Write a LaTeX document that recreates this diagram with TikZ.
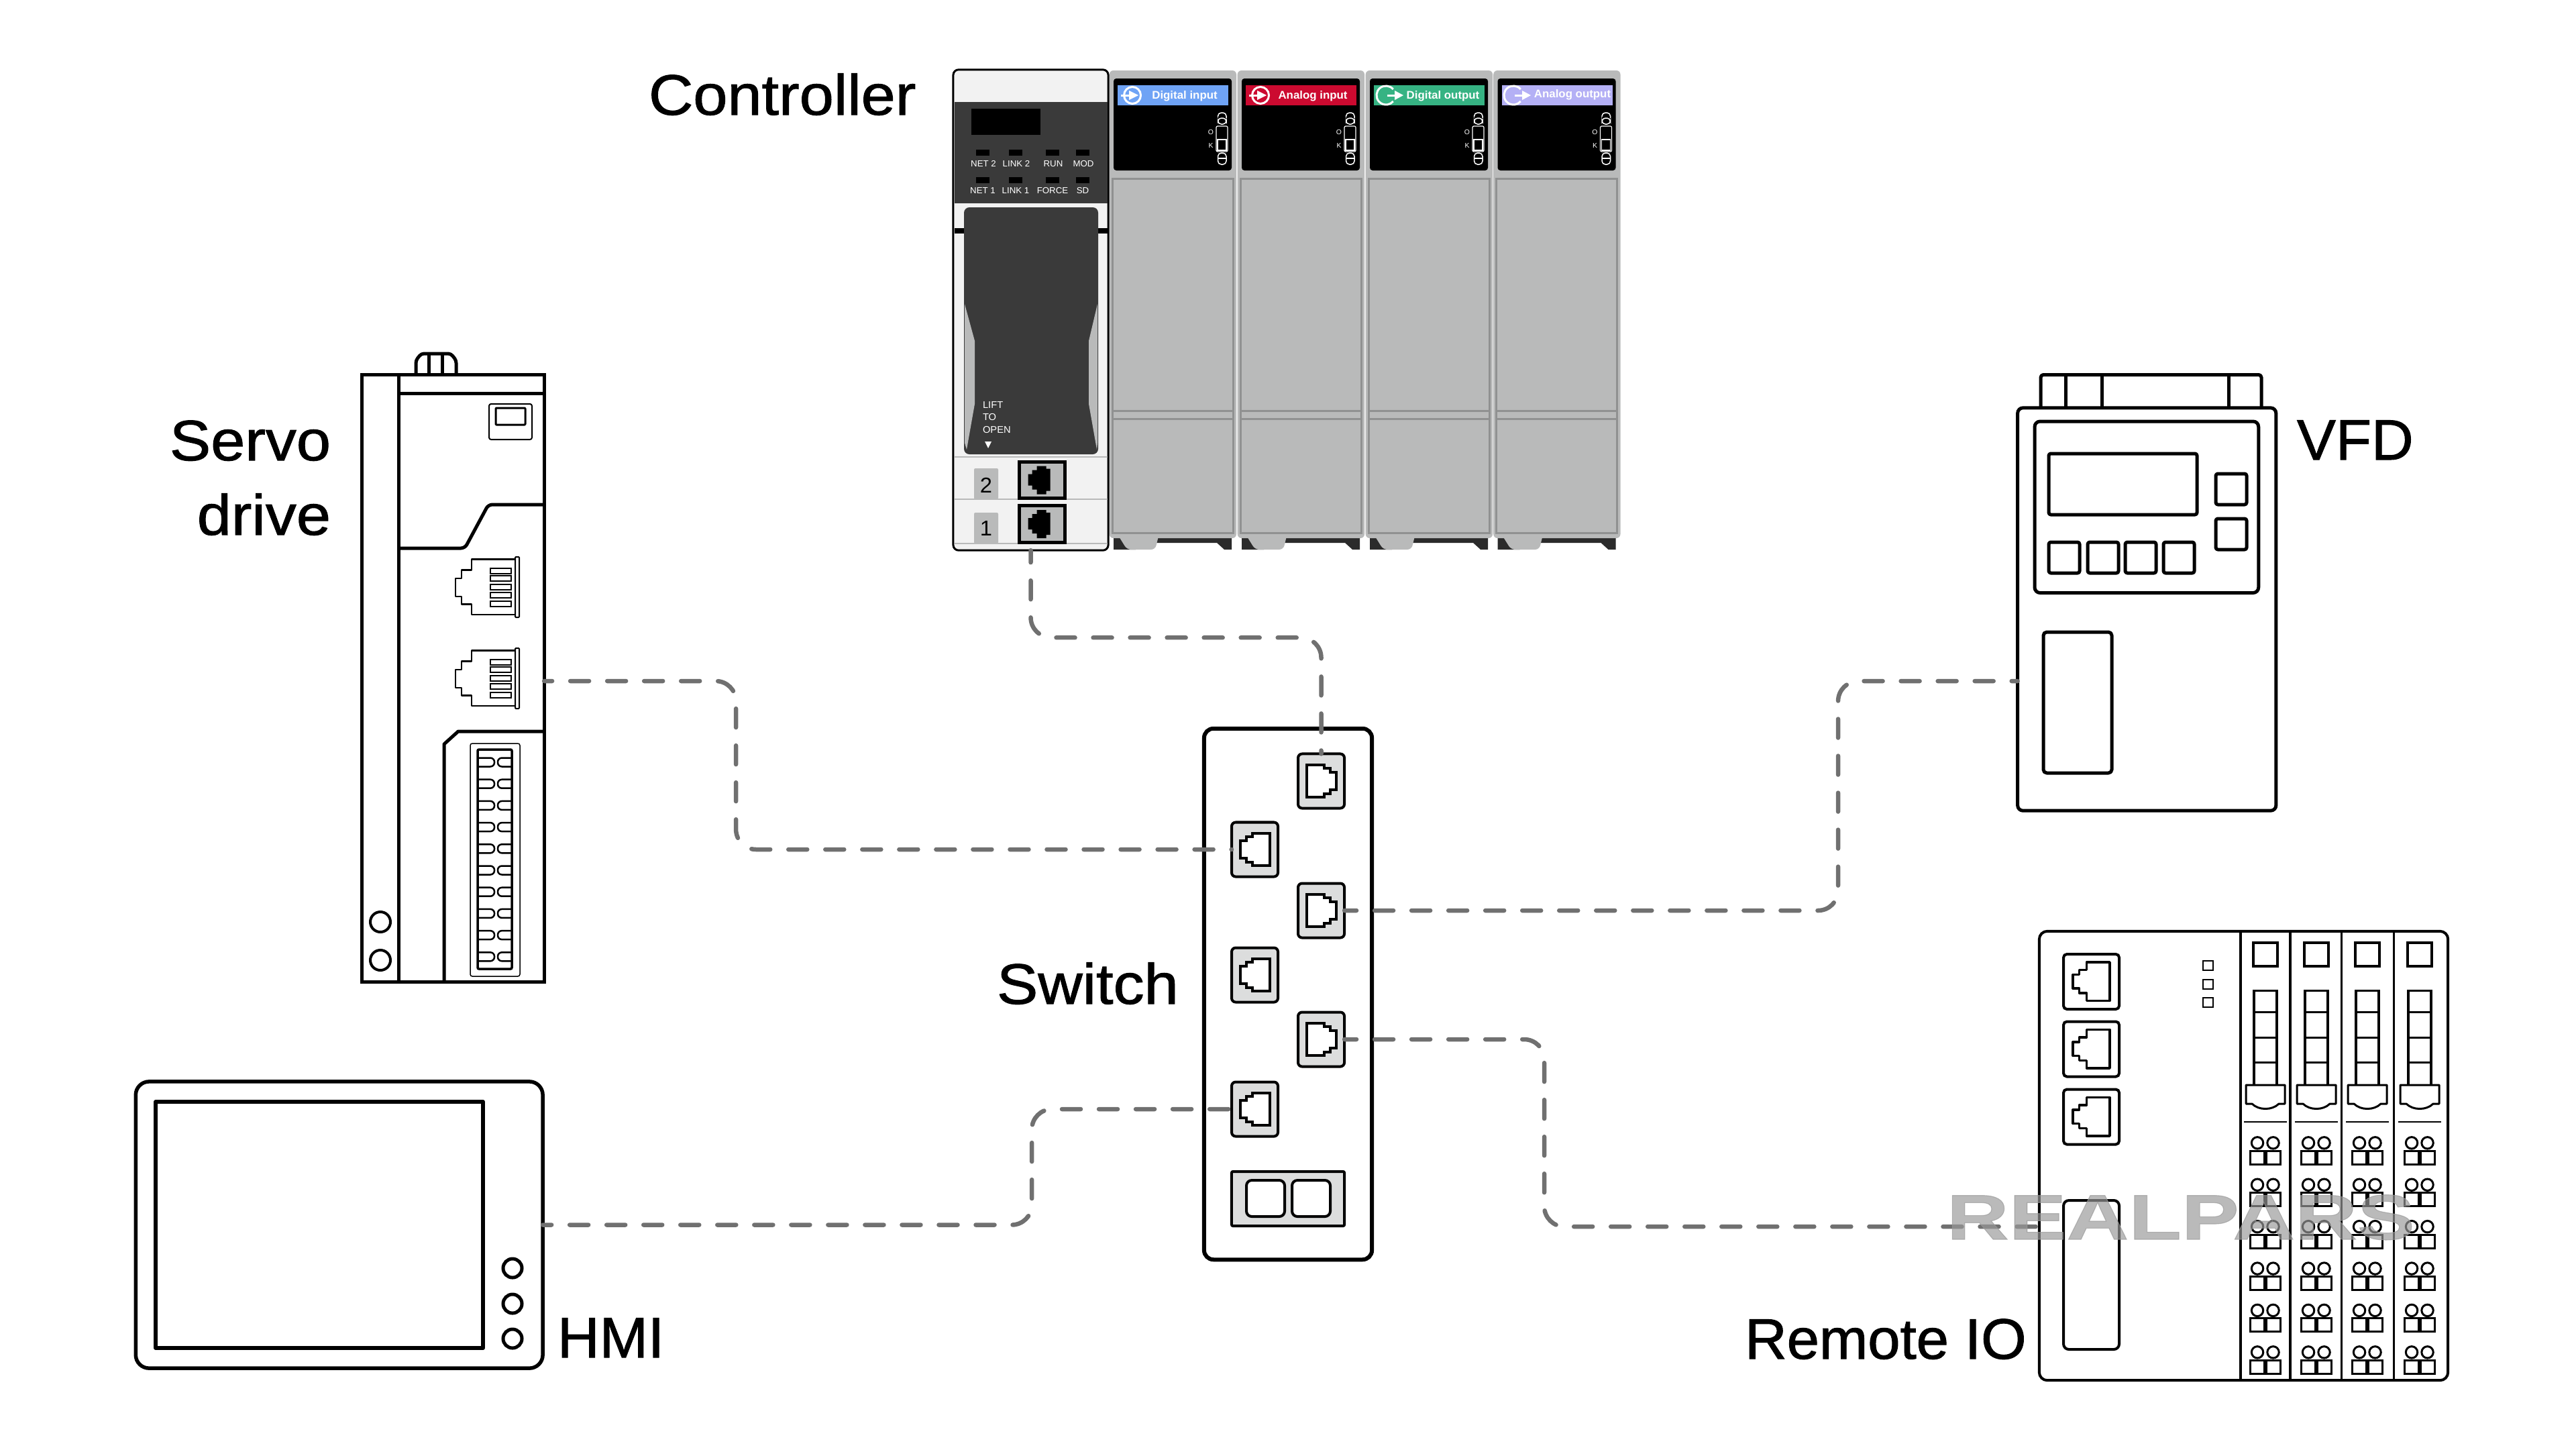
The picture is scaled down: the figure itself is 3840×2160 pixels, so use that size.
\documentclass[tikz,border=0pt]{standalone}
\usepackage{fontspec}
\setmainfont[FakeStretch=1.08, FakeBold=1.2]{Liberation Sans}
\newfontfamily\labnarrow[FakeStretch=1.02, FakeBold=1.2]{Liberation Sans}
\newfontfamily\smallfont[FakeStretch=1.02]{Liberation Sans}
\newfontfamily\markfont[FakeStretch=1.355, BoldFeatures={FakeBold=1.2}]{Liberation Sans}

\definecolor{cablegray}{HTML}{707070}
\definecolor{cpuwhite}{HTML}{F2F2F2}
\definecolor{cpudark}{HTML}{3A3A3A}
\definecolor{modgray}{HTML}{B9BABA}
\definecolor{modline}{HTML}{909191}
\definecolor{portgray}{HTML}{DCDDDD}
\definecolor{footdark}{HTML}{2B2B2B}
\definecolor{blueinput}{HTML}{6FA3F5}
\definecolor{redinput}{HTML}{CC0A30}
\definecolor{greenoutput}{HTML}{36B383}
\definecolor{lilacoutput}{HTML}{B4B0F5}

\tikzset{
    dev/.style={draw=black, fill=white, line width=.05cm, rounded corners=.08cm, inner sep=0, outer sep=0},
    swport/.style={draw=black, fill=portgray, line width=.04cm, rounded corners=.06cm, inner sep=0, outer sep=0, minimum width=.69cm, minimum height=.81cm},
    cable/.style={draw=cablegray, line width=.065cm, line cap=round, rounded corners=.3cm, dash pattern=on .28cm off .27cm},
    lab/.style={font=\fontsize{24.2}{29}\selectfont, inner sep=0, outer sep=0},
    tiny/.style={text=white, inner sep=0, outer sep=0, font=\smallfont\fontsize{3.7}{5}\selectfont},
    thick5/.style={line width=.05cm, line join=round},
    thin3/.style={line width=.03cm, line join=round},
    lockline/.style={draw=white, line width=.015cm, rounded corners=.05cm},
    pics/jack/.style={code={
        \draw[fill=white, line width=.04cm] (-22,-24) -- (4,-24) -- (4,-19) -- (13,-19) -- (13,-13) -- (22,-13) -- (22,13) -- (13,13) -- (13,19) -- (4,19) -- (4,24) -- (-22,24) -- cycle;
    }},
    pics/blackjack/.style={code={
        \draw[fill=modgray, line width=.05cm] (-34,-27.5) rectangle (34,27);
        \fill[black] (-8,-21) -- (6,-21) -- (6,-17) -- (12,-17) -- (12,16) -- (6,16) -- (6,21) -- (-8,21) -- (-8,14) -- (-15,14) -- (-15,8) -- (-21,8) -- (-21,-9) -- (-15,-9) -- (-15,-15) -- (-8,-15) -- cycle;
    }},
    pics/rjport/.style={code={
        \draw[line width=.02cm, rounded corners=.01cm] (46,-45) rectangle (52,45);
        \draw[thin3, line width=.025cm] (46,-41.5) -- (-19,-41.5) -- (-19,-25.5) -- (-34,-25.5) -- (-34,-13) -- (-43,-13) -- (-43,14) -- (-34,14) -- (-34,25.5) -- (-19,25.5) -- (-19,41) -- (46,41);
        \foreach \y in {-24,-13,0,12,25}
            \draw[line width=.02cm] (9,\y-4) rectangle (40,\y+4);
    }},
    pics/iojack/.style={code={
        \draw[thin3, line width=.035cm] (27.5,-29) -- (-7,-29) -- (-7,-17.5) -- (-18,-17.5) -- (-18,-10.5) -- (-27.5,-10.5) -- (-27.5,10) -- (-18,10) -- (-18,17) -- (-7,17) -- (-7,28.5) -- (27.5,28.5) -- cycle;
    }},
    pics/iconin/.style={code={
        \draw[white, line width=.03cm] (0,0) circle[radius=.125cm];
        \draw[white, line width=.03cm] (-17,0) -- (-3,0);
        \fill[white] (-5,-7) -- (9,0) -- (-5,7) -- cycle;
    }},
    pics/iconout/.style={code={
        \draw[white, line width=.03cm] (40:.14cm) arc[start angle=40, end angle=320, radius=.14cm];
        \draw[white, line width=.03cm] (2,0) -- (16,0);
        \fill[white] (13,-7) -- (26,0) -- (13,7) -- cycle;
    }}
}

\begin{document}
\begin{tikzpicture}[x=.01cm, y=-.01cm]
    \useasboundingbox (0,0) rectangle (3840,2160);
    \fill[white] (0,0) rectangle (3840,2160);

    \node[lab, anchor=base west] (ctl) at (967,171) {Controller};
    \node[lab, anchor=base east] (srv) at (493,686) {Servo};
    \node[lab, anchor=base east] (drv) at (493,797) {drive};
    \node[lab, anchor=base west, font=\labnarrow\fontsize{24.2}{29}\selectfont] (vfdlab) at (3424,685) {VFD};
    \node[lab, anchor=base west] (swlab) at (1486,1496) {Switch};
    \node[lab, anchor=base west, font=\labnarrow\fontsize{24.2}{29}\selectfont] (hmilab) at (831,2023) {HMI};
    \node[lab, anchor=base west, font=\labnarrow\fontsize{24.2}{29}\selectfont] (iolab) at (2601,2025) {Remote IO};

    \foreach \x/\col/\txt/\tx/\ty [count=\i] in {1653/blueinput/Digital input/113/143, 1844/redinput/Analog input/113/143, 2035/greenoutput/Digital output/116/143, 2225.5/lilacoutput/Analog output/118.5/141} {
        \begin{scope}[shift={(\x,0)}]
            \fill[footdark] (7,802) -- (183,802) -- (183,819) -- (172,819) -- (161,809) -- (40,809) -- (40,819) -- (7,819) -- cycle;
            \fill[modgray, rounded corners=.06cm] (12,795) -- (75,795) -- (69,819) -- (27,819) -- cycle;
            \fill[modgray, rounded corners=.06cm] (.7,105) rectangle (190,802);
            \fill[black, rounded corners=.04cm] (7,117) rectangle (183,254);
            \fill[\col] (13,127) rectangle (178,157);
            \node[inner sep=0, text=white, font=\smallfont\fontsize{4.7}{6}\selectfont\bfseries] (modtxt\i) at (\tx,\ty) {\txt};
            \draw[modline, line width=.03cm] (5,266.6) rectangle (185,794);
            \draw[modline, line width=.03cm] (5,612) -- (185,612) (5,624) -- (185,624);
            \draw[white, line width=.012cm, rounded corners=.02cm] (160,188) rectangle (177,226);
            \draw[white, line width=.012cm] (162,208) rectangle (175,224);
            \node[tiny, font=\smallfont\fontsize{2.9}{3}\selectfont] (ok\i o) at (152,197) {O};
            \node[tiny, font=\smallfont\fontsize{2.9}{3}\selectfont] (ok\i k) at (152,217) {K};
            \draw[lockline] (162.5,176) rectangle (175,185);
            \draw[lockline] (175,176) -- (175,168) -- (162.5,168) -- (162.5,172);
            \draw[lockline] (162.5,228) rectangle (175,245);
            \draw[white, line width=.015cm] (162.5,236) -- (175,236);
        \end{scope}
    }
    \foreach \x in {1688,1879} \pic at (\x,142) {iconin};
    \foreach \x in {2066,2256} \pic at (\x,142) {iconout};

    \node[dev, fill=cpuwhite, line width=.03cm, minimum width=2.31cm, minimum height=7.16cm] (cpu) at (1536.5,462) {};
    \fill[cpudark] (1423,152) rectangle (1651,303);
    \fill[black] (1448,162) rectangle (1551,201);
    \fill[black] (1423,340) rectangle (1651,348);
    \foreach \x/\a/\b [count=\i] in {1465/NET 2/NET 1, 1514/LINK 2/LINK 1, 1569/RUN/FORCE, 1614/MOD/SD} {
        \fill[black] (\x-10,223) rectangle (\x+10,232);
        \fill[black] (\x-10,264) rectangle (\x+10,273);
        \node[tiny] (ledtop\i) at (\x+1,244) {\a};
        \node[tiny] (ledbot\i) at (\x,284) {\b};
    }
    \fill[cpudark, rounded corners=.08cm] (1437,309) rectangle (1637,677);
    \fill[modgray] (1438,453) -- (1453,508) -- (1453,602) -- (1441,670) -- (1438,660) -- cycle;
    \fill[modgray] (1636,453) -- (1623,508) -- (1623,602) -- (1635,670) -- (1636,660) -- cycle;
    \node[tiny, anchor=west, font=\smallfont\fontsize{4.1}{6}\selectfont] (lift) at (1465,604) {LIFT};
    \node[tiny, anchor=west, font=\smallfont\fontsize{4.1}{6}\selectfont] (to) at (1465,622) {TO};
    \node[tiny, anchor=west, font=\smallfont\fontsize{4.1}{6}\selectfont] (open) at (1465,641) {OPEN};
    \fill[white] (1468,658) -- (1478,658) -- (1473,668) -- cycle;
    \foreach \y in {681,744,810}
        \draw[modgray, line width=.02cm] (1423,\y) -- (1651,\y);
    \fill[modgray, rounded corners=.02cm] (1452,744) -- (1452,698) -- (1488,698) -- (1488,744) -- cycle;
    \fill[modgray, rounded corners=.02cm] (1452,810) -- (1452,764) -- (1488,764) -- (1488,810) -- cycle;
    \node[inner sep=0, font=\smallfont\fontsize{9.1}{11}\selectfont] (two) at (1470,723) {2};
    \node[inner sep=0, font=\smallfont\fontsize{9.1}{11}\selectfont] (one) at (1470,787) {1};
    \pic at (1553.5,715.5) {blackjack};
    \pic at (1553.5,781) {blackjack};

    \draw[thick5, fill=white, rounded corners=.04cm] (620,556) -- (620,537) -- (628,527) -- (672,527) -- (680,537) -- (680,556);
    \draw[thick5] (639,527) -- (639,556) (659,527) -- (659,556);
    \node[dev, minimum width=2.71cm, minimum height=9.04cm, rounded corners=0] (servo) at (675.5,1011) {};
    \draw[thick5] (594,559) -- (594,1463);
    \draw[thick5] (594,586) -- (811,586);
    \draw[line width=.02cm, rounded corners=.03cm] (729,602) rectangle (793,655);
    \draw[thin3, rounded corners=.01cm] (739,608) rectangle (783,633);
    \draw[thick5, rounded corners=.06cm] (594,817) -- (693,817) -- (728,752) -- (811,752);
    \pic at (722,875) {rjport};
    \pic at (722,1011) {rjport};
    \draw[thick5] (662,1463) -- (662,1109) -- (683,1090) -- (811,1090);
    \draw[line width=.015cm, rounded corners=.03cm] (701,1108) rectangle (775,1455);
    \draw[line width=.035cm, rounded corners=.02cm] (712,1117) rectangle (763,1444);
    \foreach \y in {1136,1168.2,...,1427} {
        \draw[line width=.025cm, rounded corners=.06cm] (712,\y-6.5) -- (737,\y-6.5) -- (737,\y+6.5) -- (712,\y+6.5);
        \draw[line width=.025cm, rounded corners=.06cm] (763,\y-6.5) -- (742,\y-6.5) -- (742,\y+6.5) -- (763,\y+6.5);
    }
    \draw[line width=.04cm] (567,1374) circle[radius=.15cm];
    \draw[line width=.04cm] (567,1431) circle[radius=.15cm];

    \node[dev, line width=.055cm, minimum width=6.065cm, minimum height=4.27cm, rounded corners=.2cm] (hmi) at (505.7,1825.5) {};
    \draw[line width=.06cm, line join=round] (232,1642) rectangle (720,2009);
    \foreach \y in {1890,1943,1995}
        \draw[line width=.05cm] (764,\y) circle[radius=.14cm];

    \draw[thick5, rounded corners=.04cm, fill=white] (3042,608) -- (3042,558.5) -- (3371,558.5) -- (3371,608);
    \draw[thick5] (3079,558.5) -- (3079,608) (3133.7,558.5) -- (3133.7,608) (3322.7,558.5) -- (3322.7,608);
    \node[dev, minimum width=3.85cm, minimum height=6cm] (vfd) at (3200.2,908) {};
    \draw[thick5, rounded corners=.08cm] (3033,628) rectangle (3366.7,883.5);
    \draw[thick5, rounded corners=.03cm] (3054,676) rectangle (3275,767);
    \foreach \x in {3054,3112,3168,3225}
        \draw[thick5, rounded corners=.03cm] (\x,808) rectangle (\x+46,854);
    \foreach \y in {706,773}
        \draw[thick5, rounded corners=.03cm] (3303,\y) rectangle (3349,\y+46);
    \draw[thick5, rounded corners=.05cm] (3046,942) rectangle (3148,1152);

    \node[dev, line width=.06cm, minimum width=2.5cm, minimum height=7.91cm, rounded corners=.14cm] (switch) at (1920,1481.5) {};
    \node[swport] (pa) at (1969.5,1164) {};
    \node[swport] (pb) at (1870.5,1266) {};
    \node[swport] (pc) at (1969.5,1357) {};
    \node[swport] (pd) at (1870.5,1453) {};
    \node[swport] (pe) at (1969.5,1549) {};
    \node[swport] (pf) at (1870.5,1653) {};
    \foreach \p in {pa,pc,pe} \pic at (\p) {jack};
    \foreach \p in {pb,pd,pf} \pic[xscale=-1] at (\p) {jack};
    \node[swport, minimum width=1.68cm, rounded corners=.02cm] (pg) at (1920,1786.5) {};
    \draw[fill=white, line width=.04cm, rounded corners=.08cm] (1858,1759) rectangle (1915,1813);
    \draw[fill=white, line width=.04cm, rounded corners=.08cm] (1926,1759) rectangle (1983,1813);

    \node[dev, line width=.04cm, minimum width=6.09cm, minimum height=6.69cm, rounded corners=.12cm] (remote) at (3344.5,1722.5) {};
    \foreach \x in {3340,3414,3490.5,3568.6}
        \draw[line width=.035cm] (\x,1388) -- (\x,2057);
    \foreach \y in {1463,1563.5,1664.5} {
        \draw[line width=.04cm, rounded corners=.05cm] (3076,\y-41) rectangle (3159,\y+41);
        \pic at (3117.5,\y) {iojack};
    }
    \foreach \y in {1432,1459.5,1487}
        \draw[line width=.02cm] (3284,\y) rectangle (3299,\y+14);
    \draw[line width=.04cm, rounded corners=.08cm] (3076,1789) rectangle (3159,2011);
    \foreach \x in {3377,3453,3529,3607} {
        \draw[line width=.035cm] (\x-18,1405) rectangle (\x+18,1440);
        \draw[line width=.035cm] (\x-17,1616) -- (\x-17,1476.5) -- (\x+17,1476.5) -- (\x+17,1616);
        \foreach \y in {1508,1546,1583.5}
            \draw[line width=.03cm] (\x-17,\y) -- (\x+17,\y);
        \draw[line width=.03cm, line join=round] (\x-29,1617) -- (\x+29,1617) -- (\x+29,1645) -- (\x+20,1645) .. controls (\x+10,1655) and (\x-10,1655) .. (\x-20,1645) -- (\x-29,1645) -- cycle;
        \draw[line width=.02cm] (\x-32,1671.6) -- (\x+32,1671.6);
        \foreach \k in {0,...,5} {
            \pgfmathsetmacro{\y}{1703.3+62.4*\k}
            \draw[line width=.03cm] (\x-12,\y) circle[radius=.087cm];
            \draw[line width=.03cm] (\x+11.5,\y) circle[radius=.087cm];
            \draw[line width=.03cm] (\x-22.5,\y+12) rectangle (\x-2,\y+32);
            \draw[line width=.03cm] (\x+1.5,\y+12) rectangle (\x+22,\y+32);
        }
    }

    \draw[cable, dash phase=.1cm] (cpu.south) -- ++(0,130) -| (pa.north);
    \draw[cable, dash phase=.16cm] ([yshift=-.04cm]servo.east) -- ++(286,0) |- (pb.west);
    \draw[cable, dash phase=.1cm] (pc.east) -- ++(736,0) |- ([yshift=-1.07cm]vfd.west);
    \draw[cable, dash phase=.15cm] (hmi.east) -- ++(729,0) |- (pf.west);
    \draw[cable, dash phase=.1cm] (pe.east) -- ++(298,0) |- ([yshift=-1.055cm]remote.west);

    \node[anchor=base west, inner sep=0, text=black!40, text opacity=.67, font=\markfont\fontsize{27}{32}\selectfont\bfseries] (mark) at (2901,1847) {REALPARS};
\end{tikzpicture}
\end{document}
